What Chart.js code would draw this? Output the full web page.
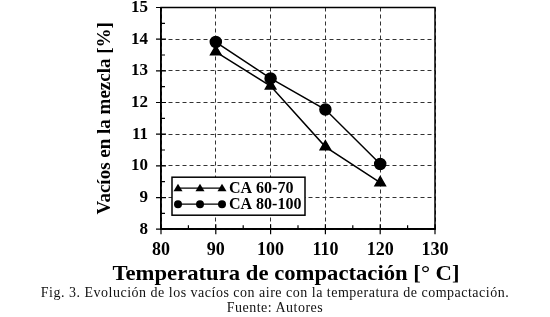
<!DOCTYPE html>
<html lang="es">
<head>
    <meta charset="UTF-8">
    <title>Vacíos vs temperatura de compactación</title>
    <script src="https://cdn.jsdelivr.net/npm/chart.js"></script>
    <style>
        body { margin: 0; background: #fff; }
        #wrap { position: relative; width: 550px; height: 317px; }
        .caption {
            position: absolute; left: 0; width: 550px; text-align: center;
            font-family: "Liberation Serif", "Times New Roman", serif;
            font-size: 14px; color: #111; letter-spacing: 0.5px; line-height: 16px;
        }
    </style>
</head>
<body>
<div id="wrap">
    <canvas id="chart" width="550" height="317"></canvas>
    <div class="caption" style="top:285px">Fig. 3. Evolución de los vacíos con aire con la temperatura de compactación.</div>
    <div class="caption" style="top:300px">Fuente: Autores</div>
</div>
<script>
    // temperatures (°C) and air voids (%)
    const temps = [90, 100, 110, 120];
    const ca6070 = [13.6, 12.52, 10.6, 9.47];
    const ca80100 = [13.91, 12.76, 11.78, 10.06];
    const xTicks = [80, 90, 100, 110, 120, 130];
    const yTicks = [8, 9, 10, 11, 12, 13, 14, 15];
    const xTitle = 'Temperatura de compactación [° C]';

    const serifBold = { family: '"Liberation Serif", "Times New Roman", serif', weight: 'bold' };

    // solid frame + tick marks (major crossing, minor inside)
    const frame = {
        id: 'frame',
        afterDatasetsDraw(chart) {
            const { ctx, chartArea: a, scales: { x, y } } = chart;
            ctx.save();
            ctx.strokeStyle = '#000';
            ctx.lineWidth = 1.5;
            ctx.strokeRect(a.left, a.top, a.right - a.left, a.bottom - a.top);
            ctx.lineWidth = 1.2;
            ctx.beginPath();
            xTicks.forEach(v => {
                const px = x.getPixelForValue(v);
                ctx.moveTo(px, a.bottom - 5); ctx.lineTo(px, a.bottom + 5);
                if (v < 130) {
                    const pm = x.getPixelForValue(v + 5);
                    ctx.moveTo(pm, a.bottom); ctx.lineTo(pm, a.bottom - 4);
                }
            });
            yTicks.forEach(v => {
                const py = y.getPixelForValue(v);
                ctx.moveTo(a.left - 5, py); ctx.lineTo(a.left + 5, py);
                if (v < 15) {
                    const pm = y.getPixelForValue(v + 0.5);
                    ctx.moveTo(a.left, pm); ctx.lineTo(a.left + 4, pm);
                }
            });
            ctx.stroke();

            // slightly wide x title (the original is stretched horizontally)
            ctx.fillStyle = '#000';
            ctx.font = 'bold 21px "Liberation Serif", serif';
            ctx.textAlign = 'center';
            ctx.textBaseline = 'middle';
            ctx.translate(286, 275);
            ctx.scale(1.08, 1);
            ctx.fillText(xTitle, 0, 0);
            ctx.restore();
        }
    };

    // legend box inside the plot, lower left
    const boxLegend = {
        id: 'boxLegend',
        afterDatasetsDraw(chart) {
            const { ctx, chartArea: a } = chart;
            const bx = a.left + 11, by = a.bottom - 52, bw = 133, bh = 38;
            ctx.save();
            ctx.fillStyle = '#fff';
            ctx.fillRect(bx, by, bw, bh);
            ctx.strokeStyle = '#000';
            ctx.lineWidth = 1.5;
            ctx.strokeRect(bx, by, bw, bh);
            chart.data.datasets.forEach((ds, i) => {
                const ly = by + 11 + i * 16;
                const x0 = bx + 6, x1 = bx + 50;
                ctx.lineWidth = 1.2;
                ctx.beginPath(); ctx.moveTo(x0, ly); ctx.lineTo(x1, ly); ctx.stroke();
                [x0, (x0 + x1) / 2, x1].forEach(px => {
                    ctx.beginPath();
                    if (ds.pointStyle === 'triangle') {
                        ctx.moveTo(px, ly - 4.5); ctx.lineTo(px + 4.5, ly + 3); ctx.lineTo(px - 4.5, ly + 3);
                        ctx.closePath();
                    } else {
                        ctx.arc(px, ly, 4, 0, Math.PI * 2);
                    }
                    ctx.fillStyle = '#000';
                    ctx.fill();
                });
                ctx.fillStyle = '#000';
                ctx.font = 'bold 16px "Liberation Serif", serif';
                ctx.textBaseline = 'middle';
                ctx.fillText(ds.label, x1 + 7, ly + 1);
            });
            ctx.restore();
        }
    };

    new Chart(document.getElementById('chart'), {
        type: 'line',
        data: {
            datasets: [
                {
                    label: 'CA 60-70',
                    data: temps.map((t, i) => ({ x: t, y: ca6070[i] })),
                    borderColor: '#000', backgroundColor: '#000', borderWidth: 1.5,
                    pointStyle: 'triangle', pointRadius: 6
                },
                {
                    label: 'CA 80-100',
                    data: temps.map((t, i) => ({ x: t, y: ca80100[i] })),
                    borderColor: '#000', backgroundColor: '#000', borderWidth: 1.5,
                    pointStyle: 'circle', pointRadius: 5.5
                }
            ]
        },
        options: {
            responsive: false,
            animation: false,
            layout: { padding: { left: 94, right: 115, top: 0, bottom: 28 } },
            plugins: { legend: { display: false }, tooltip: { enabled: false } },
            scales: {
                x: {
                    type: 'linear', min: 80, max: 130,
                    afterBuildTicks: s => { s.ticks = xTicks.map(v => ({ value: v })); },
                    grid: { color: '#333', lineWidth: 1, drawTicks: true, tickLength: 10, tickColor: 'rgba(0,0,0,0)' },
                    border: { display: true, color: '#000', width: 1.5, dash: [4, 3] },
                    ticks: { color: '#000', padding: 0, maxRotation: 0, font: { ...serifBold, size: 18 } },
                    title: {
                        display: true, text: xTitle, color: 'rgba(0,0,0,0)',
                        padding: { top: 3, bottom: 0 }, font: { ...serifBold, size: 21 }
                    }
                },
                y: {
                    min: 8, max: 15,
                    afterBuildTicks: s => { s.ticks = yTicks.map(v => ({ value: v })); },
                    afterFit: s => { s.width = 67; },
                    grid: { color: '#333', lineWidth: 1, drawTicks: true, tickLength: 13, tickColor: 'rgba(0,0,0,0)' },
                    border: { display: true, color: '#000', width: 1.5, dash: [4, 3] },
                    ticks: { color: '#000', padding: 0, font: { ...serifBold, size: 17, lineHeight: 0.7 } },
                    title: {
                        display: true, text: 'Vacíos en la mezcla [%]', color: '#000',
                        padding: { top: 0, bottom: 0 }, font: { ...serifBold, size: 19 }
                    }
                }
            }
        },
        plugins: [frame, boxLegend]
    });
</script>
</body>
</html>
